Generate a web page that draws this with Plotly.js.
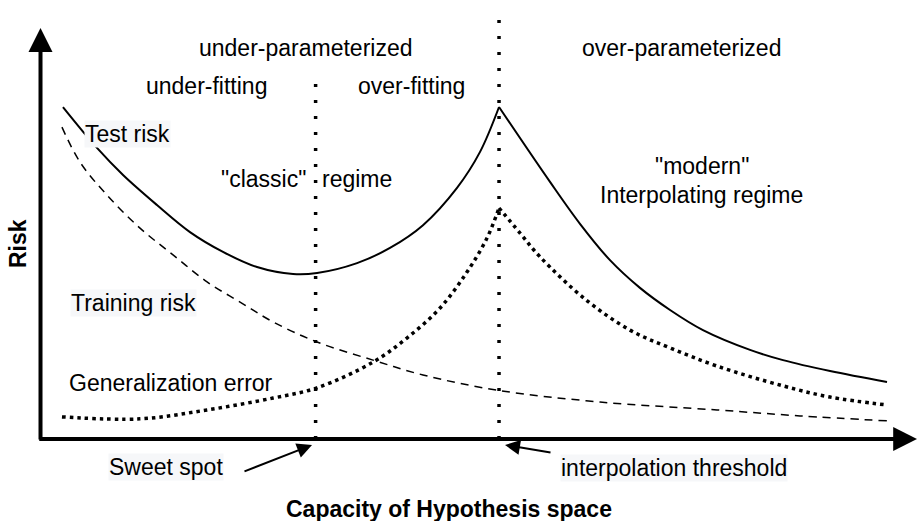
<!DOCTYPE html>
<html>
<head>
<meta charset="utf-8">
<script src="https://cdn.plot.ly/plotly-3.0.1.min.js"></script>
<style>html,body{margin:0;padding:0;background:#fff}#chart{width:917px;height:521px}</style>
</head>
<body>
<div id="chart"></div>
<script>
// ---- data (capacity units on x, risk units on y) ----
const testRiskX = [0.245, 0.616, 0.900, 1.270, 1.630, 1.990, 2.361, 2.754, 3.016, 3.452, 3.811, 4.171, 4.542, 4.793, 5.0, 5.556, 5.883, 6.210, 6.537, 6.865, 7.224, 7.737, 8.097, 8.610, 9.231];
const testRiskY = [10.06, 8.82, 8.00, 7.09, 6.27, 5.67, 5.21, 5.00, 5.03, 5.33, 5.79, 6.48, 7.61, 8.70, 10.06, 7.79, 6.52, 5.42, 4.58, 3.91, 3.30, 2.70, 2.39, 2.06, 1.73];
const trainRiskX = [0.234, 0.431, 0.725, 1.085, 1.445, 1.816, 2.176, 2.535, 3.015, 3.626, 4.171, 4.978, 6.101, 7.377, 8.282, 9.231];
const trainRiskY = [9.45, 8.39, 7.39, 6.39, 5.58, 4.76, 4.15, 3.55, 2.94, 2.39, 1.94, 1.48, 1.12, 0.88, 0.70, 0.55];
const genErrX = [0.234, 1.085, 1.816, 2.535, 3.015, 3.626, 3.996, 4.357, 4.651, 4.869, 5.0, 5.229, 5.447, 5.938, 6.428, 6.865, 7.377, 8.097, 8.610, 9.231];
const genErrY = [0.67, 0.61, 0.88, 1.24, 1.55, 2.33, 3.06, 3.97, 5.06, 6.09, 7.00, 6.24, 5.52, 4.24, 3.30, 2.76, 2.21, 1.61, 1.27, 1.03];
const peakX = 5.0;            // interpolation threshold
const sweetSpotX = 3.0;       // sweet spot
const sweetSpotLineTop = 11.03;
const thresholdLineTop = 12.94;

const regionLabels = ["under-parameterized", "over-parameterized", "under-fitting", "over-fitting"];
const curveLabels = ["Test risk", "Training risk", "Generalization error"];
const regimeLabels = ['"classic"', "regime", '"modern"', "Interpolating regime"];
const markerLabels = ["Sweet spot", "interpolation threshold"];
const axisLabels = ["Capacity of Hypothesis space", "Risk"];

// ---- helpers ----
function splitAt(xs, ys, xv) {
  const i = xs.indexOf(xv);
  return [[xs.slice(0, i + 1), ys.slice(0, i + 1)], [xs.slice(i), ys.slice(i)]];
}
const FONT = "Liberation Sans, Arial, sans-serif";
const traces = [];
splitAt(testRiskX, testRiskY, peakX).forEach(([x, y]) => traces.push({
  x, y, type: "scatter", mode: "lines", hoverinfo: "skip",
  line: {color: "#000", width: 2, shape: "spline", smoothing: 1}
}));
traces.push({
  x: trainRiskX, y: trainRiskY, type: "scatter", mode: "lines", hoverinfo: "skip",
  line: {color: "#000", width: 1.5, dash: "8px,6px", shape: "spline", smoothing: 1}
});
splitAt(genErrX, genErrY, peakX).forEach(([x, y]) => traces.push({
  x, y, type: "scatter", mode: "lines", hoverinfo: "skip",
  line: {color: "#000", width: 3.5, dash: "3.5px,4px", shape: "spline", smoothing: 1}
}));

const BG = "rgb(246,247,249)";
function txt(text, x, y, opts) {
  return Object.assign({
    text, x, y, xref: "x", yref: "y", showarrow: false,
    font: {family: FONT, size: 23, color: "#000"}, xanchor: "center", yanchor: "middle", borderpad: 0
  }, opts || {});
}
function arrow(x, y, ax, ay, w, size) {
  return {x, y, ax, ay, xref: "x", yref: "y", axref: "x", ayref: "y", text: "",
    showarrow: true, arrowhead: 2, arrowwidth: w, arrowsize: size, arrowcolor: "#000", standoff: 0};
}
const annotations = [
  txt(regionLabels[0], 2.896, 11.85),
  txt(regionLabels[1], 6.985, 11.85),
  txt(regionLabels[2], 1.805, 10.70),
  txt(regionLabels[3], 4.051, 10.70),
  txt(curveLabels[0], 0.954, 9.24, {bgcolor: BG}),
  txt(curveLabels[1], 1.009, 4.12, {bgcolor: BG}),
  txt(curveLabels[2], 1.423, 1.70),
  txt(regimeLabels[0], 2.906, 7.88, {xanchor: "right"}),
  txt(regimeLabels[1], 3.059, 7.88, {xanchor: "left"}),
  txt(regimeLabels[2], 7.214, 8.27),
  txt(regimeLabels[3], 7.203, 7.39),
  txt(markerLabels[0], 1.369, -0.85, {bgcolor: BG}),
  txt(markerLabels[1], 6.908, -0.88, {bgcolor: BG}),
  txt(axisLabels[0], 4.454, -2.12, {font: {family: FONT, size: 23, color: "#000", weight: "bold"}}),
  txt(axisLabels[1], -0.245, 5.91, {textangle: -90, font: {family: FONT, size: 23, color: "#000", weight: "bold"}}),
  // axis arrows
  arrow(9.56, 0, -0.03, 0, 4, 1.2),
  arrow(0, 12.455, 0, -0.06, 4, 1.2),
  // pointer arrows
  arrow(2.961, -0.18, 2.208, -1.0, 2, 1.5),
  arrow(5.065, -0.18, 5.578, -0.42, 2, 1.5)
];

const shapes = [
  {type: "line", xref: "x", yref: "y", x0: sweetSpotX, x1: sweetSpotX, y0: 0, y1: sweetSpotLineTop,
   line: {color: "#000", width: 3.5, dash: "3px,13px"}},
  {type: "line", xref: "x", yref: "y", x0: peakX, x1: peakX, y0: 0, y1: thresholdLineTop,
   line: {color: "#000", width: 3.5, dash: "3px,13px"}}
];

const layout = {
  width: 917, height: 521,
  margin: {l: 0, r: 0, t: 0, b: 0},
  paper_bgcolor: "#fff", plot_bgcolor: "#fff",
  showlegend: false,
  xaxis: {range: [-0.4417, 9.558], visible: false, fixedrange: true},
  yaxis: {range: [-2.485, 13.303], visible: false, fixedrange: true},
  annotations, shapes
};
Plotly.newPlot("chart", traces, layout, {staticPlot: true, displayModeBar: false});
</script>
</body>
</html>
